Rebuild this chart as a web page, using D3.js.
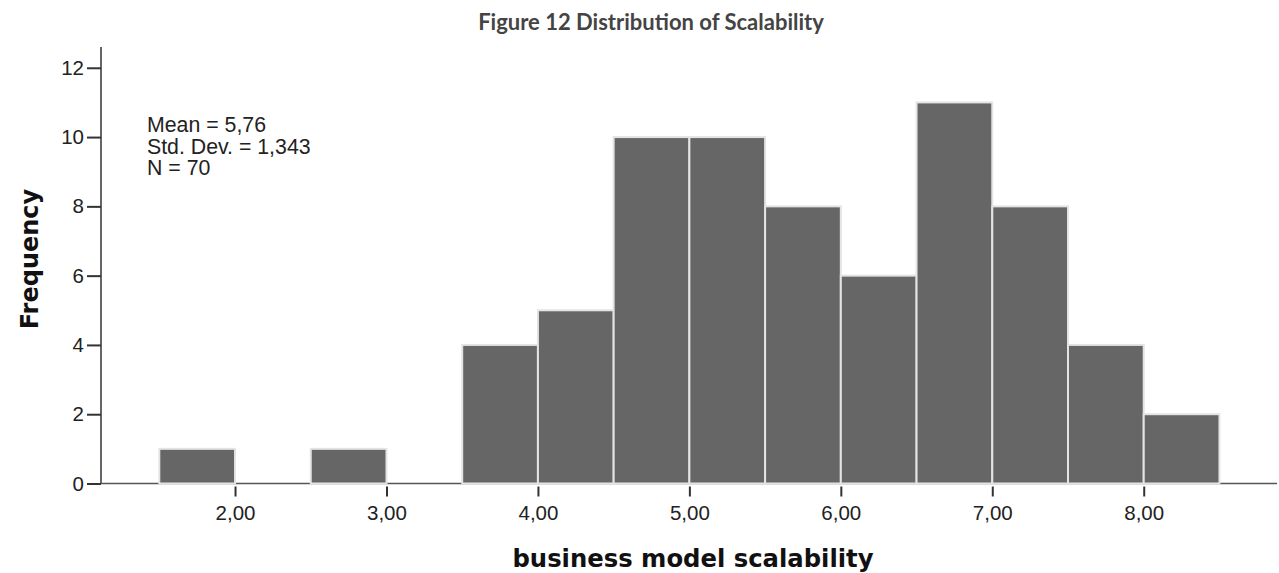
<!DOCTYPE html>
<html><head><meta charset="utf-8">
<script src="https://cdn.jsdelivr.net/npm/d3@7"></script>
<style>
html,body{margin:0;padding:0;background:#fff;}
svg{display:block;}
</style></head>
<body>
<svg id="chart" width="1279" height="573"></svg>
<script>
// Data
const binStarts = [1.5, 2.0, 2.5, 3.0, 3.5, 4.0, 4.5, 5.0, 5.5, 6.0, 6.5, 7.0, 7.5, 8.0];
const binWidth = 0.5;
const frequencies = [1, 0, 1, 0, 4, 5, 10, 10, 8, 6, 11, 8, 4, 2];
const xTickValues = [2, 3, 4, 5, 6, 7, 8];
const yTickValues = [0, 2, 4, 6, 8, 10, 12];
const statsLines = ["Mean = 5,76", "Std. Dev. = 1,343", "N = 70"];
const titleText = "Figure 12 Distribution of Scalability";
const xLabel = "business model scalability";
const yLabel = "Frequency";

const svg = d3.select("#chart");
const x = d3.scaleLinear().domain([1.115, 8.88]).range([101, 1277]);
const y = d3.scaleLinear().domain([0, 12.6]).range([483.5, 47]);
const fmt = v => d3.format(".2f")(v).replace(".", ",");

// title
svg.append("text").attr("x", 651).attr("y", 30).attr("text-anchor", "middle")
  .attr("font-family", "'Century Gothic', Lato, sans-serif").attr("font-weight", "bold")
  .attr("font-size", 22).attr("fill", "#444").text(titleText);

// baseline
svg.append("line").attr("x1", x.range()[0]).attr("x2", x.range()[1])
  .attr("y1", y(0)).attr("y2", y(0)).attr("stroke", "#555").attr("stroke-width", 1.5);

// bars
const bins = binStarts.map((s, i) => ({x0: s, x1: s + binWidth, n: frequencies[i]})).filter(d => d.n > 0);
svg.append("g").selectAll("rect").data(bins).join("rect")
  .attr("x", d => x(d.x0)).attr("width", d => x(d.x1) - x(d.x0))
  .attr("y", d => y(d.n)).attr("height", d => y(0) - y(d.n))
  .attr("fill", "#666666").attr("stroke", "#e4e4e4").attr("stroke-width", 2);

// y axis
const yAxis = d3.axisLeft(y).tickValues(yTickValues).tickSize(14).tickPadding(3).tickFormat(d3.format("d"));
const gy = svg.append("g").attr("transform", `translate(${x.range()[0]},0)`).call(yAxis);
gy.select(".domain").attr("stroke", "#666").attr("stroke-width", 2).attr("d", `M0,${y.range()[1]}V${y(0)}`);
gy.selectAll(".tick line").attr("stroke", "#333").attr("stroke-width", 2);
gy.selectAll(".tick text").attr("font-family", "'Liberation Sans', Arial, sans-serif").attr("font-size", 20.5).attr("fill", "#222");

// x axis
const xAxis = d3.axisBottom(x).tickValues(xTickValues).tickSize(10).tickPadding(9).tickFormat(fmt);
const gx = svg.append("g").attr("transform", `translate(0,${y(0) + 3})`).call(xAxis);
gx.select(".domain").remove();
gx.selectAll(".tick line").attr("stroke", "#333").attr("stroke-width", 2);
gx.selectAll(".tick text").attr("font-family", "'Liberation Sans', Arial, sans-serif").attr("font-size", 20.5).attr("fill", "#222");

// stats
const st = svg.append("text").attr("font-family", "'Liberation Sans', Arial, sans-serif").attr("font-size", 21.3).attr("fill", "#222");
statsLines.forEach((t, i) => st.append("tspan").attr("x", 147).attr("y", 132 + i * 21.7).text(t));

// axis labels
svg.append("text").attr("x", 693).attr("y", 567).attr("text-anchor", "middle")
  .attr("font-family", "'DejaVu Sans', sans-serif").attr("font-weight", "bold").attr("font-size", 24.3)
  .attr("fill", "#111").text(xLabel);
svg.append("text").attr("transform", "translate(38,259) rotate(-90)").attr("text-anchor", "middle")
  .attr("font-family", "'DejaVu Sans', sans-serif").attr("font-weight", "bold").attr("font-size", 24)
  .attr("fill", "#111").text(yLabel);
</script>
</body></html>
